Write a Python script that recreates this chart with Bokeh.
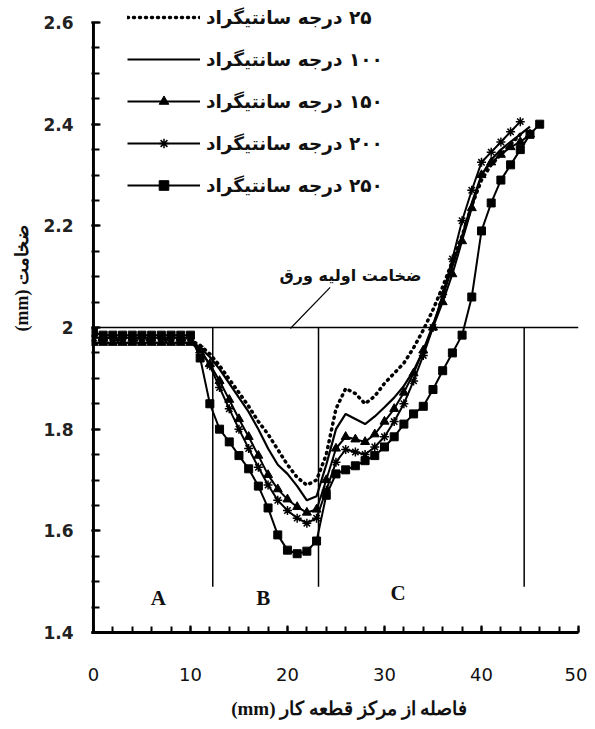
from bokeh.plotting import figure
from bokeh.models import Legend, LegendItem, Label, Span, FixedTicker, Range1d
from bokeh.embed import file_html
from bokeh.resources import INLINE

# ---------------- data ----------------
x_25 = [0, 1, 2, 3, 4, 5, 6, 7, 8, 9, 10, 11, 12, 13, 14, 15, 16, 17, 18, 19, 20, 21, 22,
        23, 24, 25, 26, 27, 28, 29, 30, 31, 32, 33, 34, 35, 36, 37, 38, 39, 40, 41, 42, 43, 44]
y_25 = [1.975, 1.975, 1.975, 1.975, 1.975, 1.975, 1.975, 1.975, 1.975, 1.975, 1.975, 1.965,
        1.948, 1.925, 1.898, 1.872, 1.845, 1.815, 1.79, 1.76, 1.73, 1.705, 1.69, 1.70, 1.75,
        1.84, 1.88, 1.87, 1.85, 1.865, 1.89, 1.91, 1.93, 1.96, 1.995, 2.035, 2.08, 2.13, 2.18,
        2.24, 2.29, 2.32, 2.34, 2.36, 2.38]

x_100 = [0, 1, 2, 3, 4, 5, 6, 7, 8, 9, 10, 11, 12, 13, 14, 15, 16, 17, 18, 19, 20, 21, 22,
         23, 24, 25, 26, 27, 28, 29, 30, 31, 32, 33, 34, 35, 36, 37, 38, 39, 40, 41, 42, 43, 44, 45]
y_100 = [1.97, 1.97, 1.97, 1.97, 1.97, 1.97, 1.97, 1.97, 1.97, 1.97, 1.97, 1.96, 1.942, 1.918,
         1.89, 1.862, 1.834, 1.80, 1.762, 1.73, 1.712, 1.688, 1.66, 1.668, 1.73, 1.80, 1.83,
         1.82, 1.81, 1.825, 1.843, 1.862, 1.885, 1.915, 1.955, 2.005, 2.06, 2.12, 2.18, 2.245,
         2.30, 2.33, 2.35, 2.365, 2.38, 2.395]

x_150 = [0, 1, 2, 3, 4, 5, 6, 7, 8, 9, 10, 11, 12, 13, 14, 15, 16, 17, 18, 19, 20, 21, 22,
         23, 24, 25, 26, 27, 28, 29, 30, 31, 32, 33, 34, 35, 36, 37, 38, 39, 40, 41, 42, 43, 44, 45]
y_150 = [1.97, 1.97, 1.97, 1.97, 1.97, 1.97, 1.97, 1.97, 1.97, 1.97, 1.97, 1.955, 1.928, 1.895,
         1.858, 1.82, 1.785, 1.748, 1.71, 1.682, 1.662, 1.647, 1.636, 1.642, 1.70, 1.762, 1.785,
         1.78, 1.775, 1.79, 1.815, 1.84, 1.872, 1.91, 1.955, 2.0, 2.05, 2.105, 2.17, 2.235,
         2.30, 2.325, 2.34, 2.355, 2.365, 2.38]

x_200 = [0, 1, 2, 3, 4, 5, 6, 7, 8, 9, 10, 11, 12, 13, 14, 15, 16, 17, 18, 19, 20, 21, 22,
         23, 24, 25, 26, 27, 28, 29, 30, 31, 32, 33, 34, 35, 36, 37, 38, 39, 40, 41, 42, 43, 44]
y_200 = [1.98, 1.98, 1.98, 1.98, 1.98, 1.98, 1.98, 1.98, 1.98, 1.98, 1.98, 1.958, 1.925, 1.882,
         1.84, 1.80, 1.762, 1.725, 1.69, 1.66, 1.64, 1.625, 1.615, 1.625, 1.68, 1.735, 1.76,
         1.755, 1.75, 1.765, 1.785, 1.815, 1.85, 1.895, 1.945, 2.0, 2.065, 2.135, 2.21, 2.27,
         2.325, 2.345, 2.365, 2.385, 2.405]

x_250 = [0, 1, 2, 3, 4, 5, 6, 7, 8, 9, 10, 11, 12, 13, 14, 15, 16, 17, 18, 19, 20, 21, 22,
         23, 24, 25, 26, 27, 28, 29, 30, 31, 32, 33, 34, 35, 36, 37, 38, 39, 40, 41, 42, 43, 44,
         45, 46]
y_250 = [1.99, 1.985, 1.985, 1.985, 1.985, 1.985, 1.985, 1.985, 1.985, 1.985, 1.985, 1.94,
         1.85, 1.80, 1.775, 1.748, 1.722, 1.688, 1.645, 1.592, 1.562, 1.555, 1.56, 1.58, 1.67,
         1.712, 1.72, 1.728, 1.738, 1.748, 1.765, 1.785, 1.81, 1.83, 1.845, 1.878, 1.915, 1.95,
         1.985, 2.06, 2.19, 2.245, 2.29, 2.32, 2.35, 2.38, 2.40]

series_labels = ["\u200f۲۵ درجه سانتیگراد", "\u200f۱۰۰ درجه سانتیگراد", "\u200f۱۵۰ درجه سانتیگراد",
                 "\u200f۲۰۰ درجه سانتیگراد", "\u200f۲۵۰ درجه سانتیگراد"]

x_ticks = [0, 10, 20, 30, 40, 50]
x_minor = [0, 2, 4, 6, 8, 10, 12, 14, 16, 18, 20, 22, 24, 26, 28, 30, 32, 34, 36, 38, 40, 42,
           44, 46, 48, 50]
y_ticks = [1.4, 1.6, 1.8, 2.0, 2.2, 2.4, 2.6]
y_tick_labels = {1.4: "1.4", 1.6: "1.6", 1.8: "1.8", 2.0: "2", 2.2: "2.2", 2.4: "2.4", 2.6: "2.6"}
y_minor = [1.4, 1.45, 1.5, 1.55, 1.6, 1.65, 1.7, 1.75, 1.8, 1.85, 1.9, 1.95, 2.0, 2.05, 2.1,
           2.15, 2.2, 2.25, 2.3, 2.35, 2.4, 2.45, 2.5, 2.55, 2.6]
y_min, y_max = 1.4, 2.6

initial_thickness = 2.0
zone_bounds = [12.3, 23.2, 44.4]
zone_bottom = 1.49
zone_letters = ["A", "B", "C"]
zone_letter_x = [6.7, 17.5, 31.4]
zone_letter_y = [1.467, 1.467, 1.478]

x_title = "\u00a0" * 6 + "(mm) فاصله از مرکز قطعه کار"
y_title = "\u00a0" * 17 + "(mm) ضخامت"
note_text = "ضخامت اولیه ورق"
note_x, note_y = 26.5, 2.102
leader_x = [20.3, 24.4]
leader_y = [1.998, 2.079]

# ---------------- figure ----------------
p = figure(width=587, height=721, output_backend="svg", toolbar_location=None,
           x_range=Range1d(-0.2, 50), y_range=Range1d(1.4, 2.6433),
           min_border_left=91, min_border_right=9, min_border_top=0, min_border_bottom=89)
p.outline_line_color = None
p.grid.visible = False
p.background_fill_color = "white"
p.border_fill_color = "white"

for ax in (p.xaxis[0], p.yaxis[0]):
    ax.axis_line_width = 3
    ax.axis_line_color = "black"
    ax.major_tick_out = 0
    ax.minor_tick_out = 0
    ax.major_tick_line_width = 2
    ax.minor_tick_line_width = 2
    ax.major_tick_line_color = "black"
    ax.minor_tick_line_color = "black"
p.xaxis.major_tick_in = 7
p.xaxis.minor_tick_in = 6
p.yaxis.major_tick_in = 9
p.yaxis.minor_tick_in = 8
p.yaxis.axis_line_color = None

p.xaxis.ticker = FixedTicker(ticks=x_ticks, minor_ticks=x_minor)
p.yaxis.ticker = FixedTicker(ticks=y_ticks, minor_ticks=y_minor)
p.yaxis.major_label_overrides = y_tick_labels
p.xaxis.major_label_text_font = "DejaVu Sans"
p.xaxis.major_label_text_font_size = "18px"
p.xaxis.major_label_text_color = "#111111"
p.xaxis.major_label_standoff = 35
p.yaxis.major_label_text_font = "DejaVu Sans"
p.yaxis.major_label_text_font_style = "bold"
p.yaxis.major_label_text_font_size = "17px"
p.yaxis.major_label_text_color = "#222222"
p.yaxis.major_label_standoff = 18

p.xaxis.axis_label = x_title
p.xaxis.axis_label_text_font = "Liberation Serif"
p.xaxis.axis_label_text_font_style = "bold"
p.xaxis.axis_label_text_font_size = "19px"
p.xaxis.axis_label_text_color = "#111111"
p.xaxis.axis_label_standoff = 14

p.yaxis.axis_label = y_title
p.yaxis.axis_label_text_font = "Liberation Serif"
p.yaxis.axis_label_text_font_style = "bold"
p.yaxis.axis_label_text_font_size = "18px"
p.yaxis.axis_label_text_color = "#111111"
p.yaxis.axis_label_standoff = 8

# left axis line, ending at the top tick
p.segment(x0=[0], y0=[y_min], x1=[0], y1=[y_max], line_color="black", line_width=3)

# reference lines
p.add_layout(Span(location=initial_thickness, dimension="width", line_color="black", line_width=1.5))
p.segment(x0=zone_bounds, y0=[initial_thickness] * 3, x1=zone_bounds, y1=[zone_bottom] * 3,
          line_color="black", line_width=1.5)
p.line(leader_x, leader_y, line_color="black", line_width=1.2)

# series
r25 = p.line(x_25, y_25, line_color="black", line_width=3.5, line_dash="1 5", line_cap="round")
r100 = p.line(x_100, y_100, line_color="black", line_width=2.2)
r150 = p.line(x_150, y_150, line_color="black", line_width=2)
m150 = p.scatter(x_150, y_150, marker="triangle", size=9, color="black")
r200 = p.line(x_200, y_200, line_color="black", line_width=2)
m200 = p.scatter(x_200, y_200, marker="asterisk", size=9, line_color="black", line_width=1.5)
r250 = p.line(x_250, y_250, line_color="black", line_width=2)
m250 = p.scatter(x_250, y_250, marker="square", size=8, color="black")

legend = Legend(items=[
    LegendItem(label=series_labels[0], renderers=[r25]),
    LegendItem(label=series_labels[1], renderers=[r100]),
    LegendItem(label=series_labels[2], renderers=[r150, m150]),
    LegendItem(label=series_labels[3], renderers=[r200, m200]),
    LegendItem(label=series_labels[4], renderers=[r250, m250]),
], location=(36, 435), glyph_width=73, glyph_height=24, label_height=24, spacing=18,
    padding=0, margin=0, border_line_color=None, background_fill_alpha=0,
    label_standoff=6, label_text_font="DejaVu Sans", label_text_font_style="bold",
    label_text_font_size="18.5px", label_text_color="#111111")
p.add_layout(legend)

# zone letters
for t, lx, ly in zip(zone_letters, zone_letter_x, zone_letter_y):
    p.add_layout(Label(x=lx, y=ly, text=t, text_align="center", text_baseline="middle",
                       text_font="Liberation Serif", text_font_style="bold",
                       text_font_size="21px", text_color="#111111"))

# annotation
p.add_layout(Label(x=note_x, y=note_y, text=note_text, text_align="center", text_baseline="middle",
                   text_font="DejaVu Sans", text_font_style="bold", text_font_size="16px",
                   text_color="#111111"))

open("out.html", "w").write(file_html(p, INLINE))
